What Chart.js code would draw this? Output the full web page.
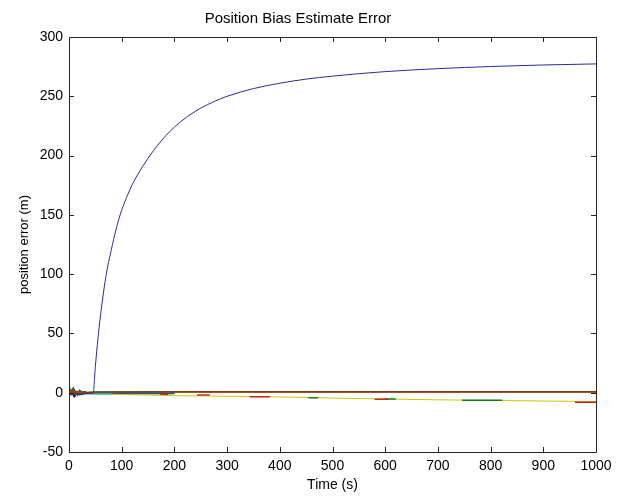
<!DOCTYPE html>
<html lang="en">
<head>
    <meta charset="UTF-8">
    <title>Position Bias Estimate Error</title>
    <script src="https://cdn.jsdelivr.net/npm/chart.js"></script>
    <style>
        html, body { margin: 0; padding: 0; background: #fff; }
        #wrap { width: 620px; height: 496px; }
    </style>
</head>
<body>
    <div id="wrap">
        <canvas id="myChart" width="620" height="496"></canvas>
    </div>

    <script>
        // values
        const xTicks = [0, 100, 200, 300, 400, 500, 600, 700, 800, 900, 1000];
        const yTicks = [-50, 0, 50, 100, 150, 200, 250, 300];

        // the big diverging estimate (blue)
        const blueT = [0, 10, 20, 30, 40, 46, 50, 55, 60, 70, 80, 90, 100, 110, 120, 140, 160, 180, 200, 225, 250, 275, 300, 350, 400, 450, 500, 600, 700, 800, 900, 1000];
        const blueV = [-2, -1, -1.5, -0.5, -0.5, 0, 22, 46, 66, 98, 120, 139, 154, 165.5, 175.5, 191, 204, 215, 224, 233, 240, 245.5, 250, 256.5, 261, 264.5, 267, 270.8, 273.3, 275.1, 276.4, 277.3];

        // estimates that stay near zero
        const redT = [0, 3, 6, 9, 12, 15, 18, 21, 24, 27, 30, 35, 40, 45, 50, 200, 400, 600, 800, 1000];
        const redV = [-3, 2, -1, 1.5, -2, 1, 0.5, -1, 0.8, 0.3, -0.5, 0.4, 0.2, 0, 0.4, 0.5, 0.5, 0.5, 0.5, 0.5];
        const greenT = [0, 4, 8, 12, 16, 20, 25, 30, 35, 40, 50, 200, 400, 600, 800, 1000];
        const greenV = [3, -1, 4, 1, -2, 2, 0.5, 1, -0.5, 0.5, 0.6, 0.8, 0.8, 0.8, 0.8, 0.8];
        const navyT = [0, 5, 10, 15, 20, 30, 40, 100, 200];
        const navyV = [-2, 1, -3, 0, -1.5, -0.5, -0.5, -0.5, -0.5];
        const cyanT = [0, 5, 10, 15, 20, 30, 58, 80, 81, 200];
        const cyanV = [4, 2, -1, 1, 0, -0.5, -0.8, -0.8, 0, 0];
        const yellowT = [0, 10, 20, 30, 40, 50, 100, 200, 300, 400, 500, 600, 700, 800, 900, 1000];
        const yellowV = [2, -1, 1, -0.5, 0.5, -1, -1.5, -2.5, -3, -3.5, -4.5, -5.3, -6, -6.5, -7, -7.5];

        // short dashes just below the yellow trend (null = gap)
        const redDashT = [173, 188, null, 243, 267, null, 343, 381, null, 580, 605, null, 960, 1000];
        const redDashV = [-1.4, -1.4, null, -2, -2, null, -3.3, -3.3, null, -5.5, -5.5, null, -8, -8];
        const greenDashT = [454, 473, null, 600, 620, null, 746, 822];
        const greenDashV = [-4.3, -4.3, null, -5.4, -5.4, null, -6.3, -6.3];

        function pts(ts, vs) {
            return ts.map((t, i) => t === null ? { x: null, y: null } : { x: t, y: vs[i] });
        }

        function line(data, color, width) {
            return {
                data: data,
                borderColor: color,
                borderWidth: width,
                pointRadius: 0,
                fill: false,
                tension: 0,
                spanGaps: false
            };
        }

        // MATLAB style box with inward ticks on all four sides
        const framePlugin = {
            id: 'frame',
            afterDatasetsDraw(chart) {
                const ctx = chart.ctx;
                const a = chart.chartArea;
                const xs = chart.scales.x;
                const ys = chart.scales.y;
                ctx.save();
                ctx.strokeStyle = '#262626';
                ctx.lineWidth = 1;
                ctx.beginPath();
                ctx.rect(Math.round(a.left) + 0.5, Math.round(a.top) + 0.5,
                    Math.round(a.right - a.left), Math.round(a.bottom - a.top));
                xTicks.forEach(v => {
                    const px = Math.round(xs.getPixelForValue(v)) + 0.5;
                    ctx.moveTo(px, a.bottom); ctx.lineTo(px, a.bottom - 5);
                    ctx.moveTo(px, a.top); ctx.lineTo(px, a.top + 5);
                });
                yTicks.forEach(v => {
                    const py = Math.round(ys.getPixelForValue(v)) + 0.5;
                    ctx.moveTo(a.left, py); ctx.lineTo(a.left + 5, py);
                    ctx.moveTo(a.right, py); ctx.lineTo(a.right - 5, py);
                });
                ctx.stroke();
                ctx.restore();
            }
        };

        Chart.defaults.font.family = '"Liberation Sans", Arial, sans-serif';
        Chart.defaults.color = '#000';

        const blueLine = line(pts(blueT, blueV), '#2a2a9a', 1);
        blueLine.cubicInterpolationMode = 'monotone';

        const ctx = document.getElementById('myChart').getContext('2d');
        new Chart(ctx, {
            type: 'line',
            data: {
                // first dataset is drawn on top
                datasets: [
                    blueLine,
                    line(pts(redT, redV), '#b03010', 1.5),
                    line(pts(greenT, greenV), '#007000', 1.5),
                    line(pts(redDashT, redDashV), '#cc2020', 1.5),
                    line(pts(greenDashT, greenDashV), '#1a7a1a', 1.5),
                    line(pts(cyanT, cyanV), '#00bfbf', 1.5),
                    line(pts(yellowT, yellowV), '#c8c800', 1),
                    line(pts(navyT, navyV), '#0000a0', 2)
                ]
            },
            options: {
                responsive: false,
                animation: false,
                layout: { padding: { left: 0, right: 24, top: 0, bottom: 0 } },
                plugins: {
                    legend: { display: false },
                    tooltip: { enabled: false },
                    title: {
                        display: true,
                        text: 'Position Bias Estimate Error',
                        font: { size: 15, weight: 'normal' },
                        padding: { top: 10, bottom: 9 }
                    }
                },
                scales: {
                    x: {
                        type: 'linear',
                        min: 0,
                        max: 1000,
                        afterFit: s => { s.height = 44; },
                        afterBuildTicks: s => { s.ticks = xTicks.map(v => ({ value: v })); },
                        grid: { display: false, drawTicks: false },
                        border: { display: false },
                        ticks: { font: { size: 14 }, padding: 6, maxRotation: 0, callback: v => String(v) },
                        title: {
                            display: true,
                            text: 'Time (s)',
                            font: { size: 14 },
                            padding: { top: 0, bottom: 2 }
                        }
                    },
                    y: {
                        min: -50,
                        max: 300,
                        afterFit: s => { s.width = 69; },
                        afterBuildTicks: s => { s.ticks = yTicks.map(v => ({ value: v })); },
                        grid: { display: false, drawTicks: false },
                        border: { display: false },
                        ticks: { font: { size: 14 }, padding: 6, callback: v => String(v) },
                        title: {
                            display: true,
                            text: 'position error (m)',
                            font: { size: 13 },
                            padding: { top: 17, bottom: 0 }
                        }
                    }
                }
            },
            plugins: [framePlugin]
        });
    </script>
</body>
</html>
